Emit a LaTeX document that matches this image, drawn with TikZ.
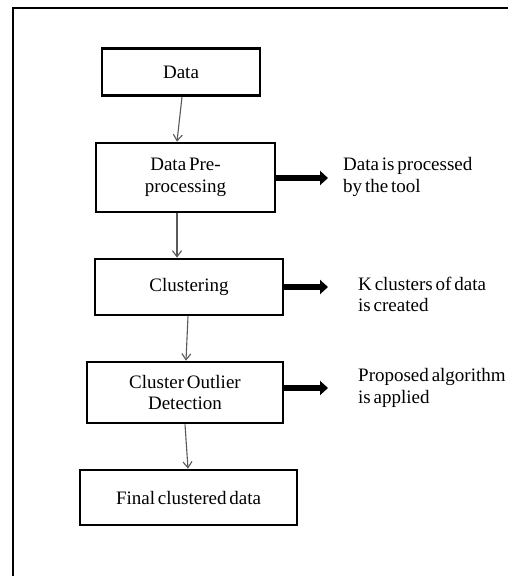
\documentclass[tikz,border=0pt]{standalone}
\usepackage{fontspec}
\setmainfont{Liberation Serif}[WordSpace=0.6]
\usetikzlibrary{arrows.meta}
\begin{document}
\begin{tikzpicture}[x=1pt,y=-1pt,
  stepbox/.style={draw=black,line width=2.8pt,rectangle,inner sep=0pt,
    align=center,font=\fontsize{19}{21.5}\selectfont},
  flow/.style={draw=black!65,line width=1.1pt,-{Straight Barb[length=6pt,width=9pt]}},
  outarrow/.style={draw=black,line width=5.5pt,-{Triangle[length=8pt,width=14pt]}},
  note/.style={anchor=west,align=left,inner sep=0pt,font=\fontsize{19}{21.5}\selectfont}]
\useasboundingbox (0,0) rectangle (508,576);
\fill[white] (0,0) rectangle (508,576);
% outer frame, running off the page to the right and bottom
\draw[line width=2.8pt] (13,590) -- (13,8) -- (520,8);

% process steps
\node[stepbox,minimum width=158pt,minimum height=47pt] (data) at (181,72) {Data};
\node[stepbox,minimum width=179pt,minimum height=69pt] (pre) at (185.5,177.5) {Data Pre-\\processing};
\node[stepbox,minimum width=188pt,minimum height=56pt] (clust) at (189,287) {Clustering};
\node[stepbox,minimum width=196pt,minimum height=61pt] (cod) at (185,392.5) {Cluster Outlier\\Detection};
\node[stepbox,minimum width=217pt,minimum height=55pt] (final) at (188.5,497.5) {Final clustered data};

% flow between steps
\draw[flow] ([xshift=1pt]data.south) -- ([xshift=-8.5pt]pre.north);
\draw[flow] ([xshift=-8.5pt]pre.south) -- ([xshift=-12pt]clust.north);
\draw[flow] ([xshift=-1pt]clust.south) -- ([xshift=1pt]cod.north);
\draw[flow] (cod.south) -- ([xshift=-0.5pt]final.north);

% side notes
\coordinate (e1) at (328,178);
\coordinate (e2) at (328,287);
\coordinate (e3) at (328,388);
\draw[outarrow] (pre.east |- e1) -- (e1);
\draw[outarrow] (clust.east |- e2) -- (e2);
\draw[outarrow] (cod.east |- e3) -- (e3);
\node[note] (n1) at (343,177) {Data is processed\\by the tool};
\node[note] (n2) at (358,294.5) {K clusters of data\\is created};
\node[note] (n3) at (358,388) {Proposed algorithm\\is applied};
\end{tikzpicture}
\end{document}
